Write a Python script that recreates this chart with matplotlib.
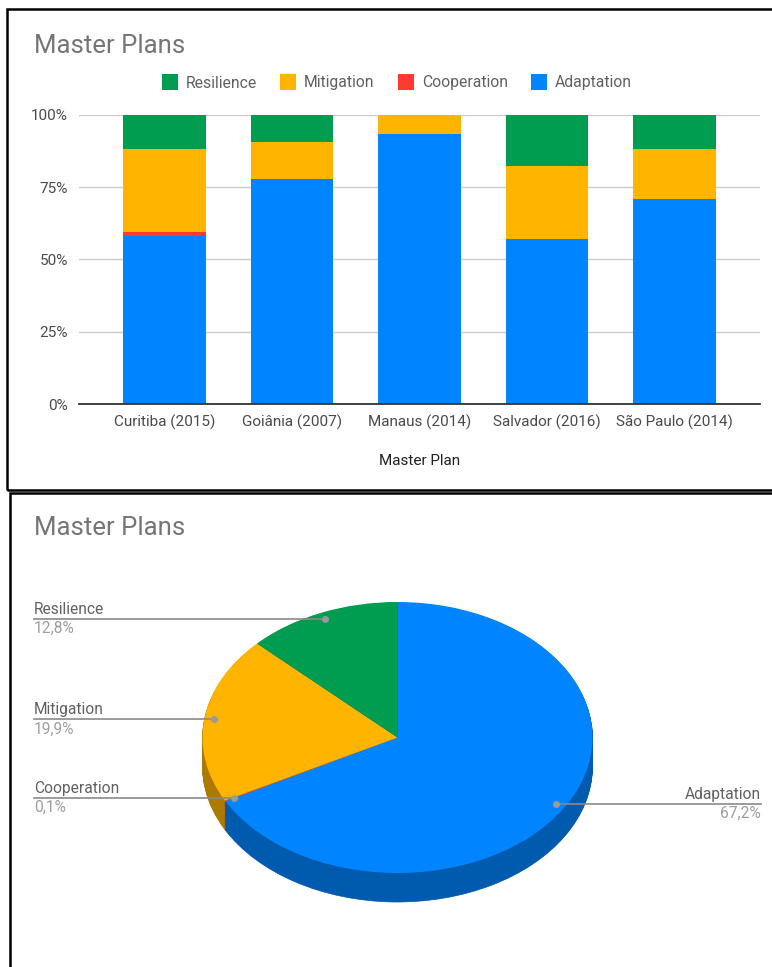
import numpy as np
import matplotlib.pyplot as plt
from matplotlib.lines import Line2D
from matplotlib.patches import Rectangle
import matplotlib.colors as mcolors

plt.rcParams['font.family'] = ['Roboto', 'DejaVu Sans']

# data (percent of each master plan)
plans = ['Curitiba (2015)', 'Goiânia (2007)', 'Manaus (2014)', 'Salvador (2016)', 'São Paulo (2014)']
adaptation = [58.0, 77.7, 93.5, 57.2, 71.1]
cooperation = [1.4, 0.0, 0.0, 0.0, 0.0]
mitigation = [28.7, 13.1, 6.5, 25.0, 17.0]
resilience = [11.9, 9.2, 0.0, 17.8, 11.9]

pie_labels = ['Adaptation', 'Cooperation', 'Mitigation', 'Resilience']
pie_values = [67.2, 0.1, 19.9, 12.8]

c_blue = '#0084ff'
c_red = '#ff3b30'
c_orange = '#ffb400'
c_green = '#009c4f'
txt = '#616161'
txt_light = '#9e9e9e'

W, H = 772, 967
fig = plt.figure(figsize=(W / 100, H / 100), dpi=100)


def px(x0, y0, x1, y1):
    # pixel box (top-left origin) -> figure fraction
    return [x0 / W, 1 - y1 / H, (x1 - x0) / W, (y1 - y0) / H]


# panel frames
fig.patches.append(Rectangle((7 / W, 1 - 490 / H), 800 / W, 481 / H, transform=fig.transFigure,
                             fill=False, edgecolor='black', linewidth=1.8))
fig.patches.append(Rectangle((10 / W, 1 - 1000 / H), 800 / W, 507 / H, transform=fig.transFigure,
                             fill=False, edgecolor='black', linewidth=1.8))

# ---------- stacked 100% bar chart ----------
ax = fig.add_axes(px(79, 115, 760, 404))
x = np.arange(len(plans))
bw = 0.65
bottom = np.zeros(len(plans))
for vals, col in [(adaptation, c_blue), (cooperation, c_red), (mitigation, c_orange), (resilience, c_green)]:
    ax.bar(x, vals, bw, bottom=bottom, color=col, linewidth=0, zorder=2)
    bottom += np.array(vals)

ax.set_xlim(-0.67, len(plans) - 0.33)
ax.set_ylim(0, 100)
ax.set_yticks([0, 25, 50, 75, 100])
ax.set_yticklabels(['0%', '25%', '50%', '75%', '100%'])
ax.set_xticks(x)
ax.set_xticklabels(plans)
ax.tick_params(axis='both', length=0, labelsize=11, labelcolor='#4a4a4a')
ax.tick_params(axis='x', pad=8)
ax.tick_params(axis='y', pad=8)
ax.grid(axis='y', color='#cccccc', linewidth=1, zorder=0)
for s in ['top', 'right', 'left']:
    ax.spines[s].set_visible(False)
ax.spines['bottom'].set_color('#333333')
ax.spines['bottom'].set_linewidth(1.3)
ax.spines['bottom'].set_zorder(3)
ax.set_xlabel('Master Plan', fontsize=11, color='#222222', labelpad=17)

fig.text(34 / W, 1 - 46 / H, 'Master Plans', fontsize=18.5, color='#757575', va='center', ha='left')

handles = [Line2D([], [], marker='s', linestyle='none', markersize=11, markerfacecolor=c, markeredgewidth=0)
           for c in [c_green, c_orange, c_red, c_blue]]
fig.legend(handles, ['Resilience', 'Mitigation', 'Cooperation', 'Adaptation'], ncol=4,
           loc='center', bbox_to_anchor=(397 / W, 1 - 83 / H), frameon=False,
           fontsize=11.3, labelcolor=txt, handletextpad=0.5, columnspacing=1.5, handlelength=1.0)

# ---------- 3D-style pie ----------
cx, cy, rx, ry = 397.5, 737.5, 195.0, 135.5
depth = 29 / ry
pax = fig.add_axes(px(10, 560, 772, 960))
dark = [tuple(np.array(mcolors.to_rgb(c)) * 0.68) for c in [c_blue, c_red, c_orange, c_green]]
n_layers = 30
for off in np.linspace(-depth, 0, n_layers)[:-1]:
    pax.pie(pie_values, colors=dark, startangle=90, counterclock=False, center=(0, off),
            wedgeprops=dict(linewidth=0.5), normalize=True)
for w in pax.patches:
    w.set_edgecolor(w.get_facecolor())
pax.pie(pie_values, colors=[c_blue, c_red, c_orange, c_green], startangle=90, counterclock=False,
        center=(0, 0), wedgeprops=dict(linewidth=0), normalize=True)

pax.set_aspect('auto')
pax.set_xlim((10 - cx) / rx, (772 - cx) / rx)
pax.set_ylim((cy - 960) / ry, (cy - 560) / ry)
pax.axis('off')

# labels with leader lines
fracs = np.array(pie_values) / sum(pie_values)
starts = np.concatenate([[0], np.cumsum(fracs)[:-1]])
lab_left = (34 - cx) / rx
lab_right = (761 - cx) / rx
for name, v, f0, f in zip(pie_labels, pie_values, starts, fracs):
    ang = 2 * np.pi * (f0 + f / 2)  # clockwise from top
    dx, dy = 0.95 * np.sin(ang), 0.95 * np.cos(ang)
    lx = lab_right if dx > 0 else lab_left
    ha = 'right' if dx > 0 else 'left'
    pax.plot([lx, dx], [dy, dy], color='#8a8a8a', linewidth=1.2, zorder=5)
    pax.plot([dx], [dy], marker='o', markersize=4, color='#9a9a9a', zorder=6)
    pct = f'{v:.1f}'.replace('.', ',') + '%'
    pax.text(lx, dy + 2 / ry, name, ha=ha, va='bottom', fontsize=11.2, color=txt)
    pax.text(lx, dy - 2 / ry, pct, ha=ha, va='top', fontsize=11.2, color=txt_light)

fig.text(34 / W, 1 - 528 / H, 'Master Plans', fontsize=18.5, color='#757575', va='center', ha='left')

fig.savefig('out.png', dpi=100)
